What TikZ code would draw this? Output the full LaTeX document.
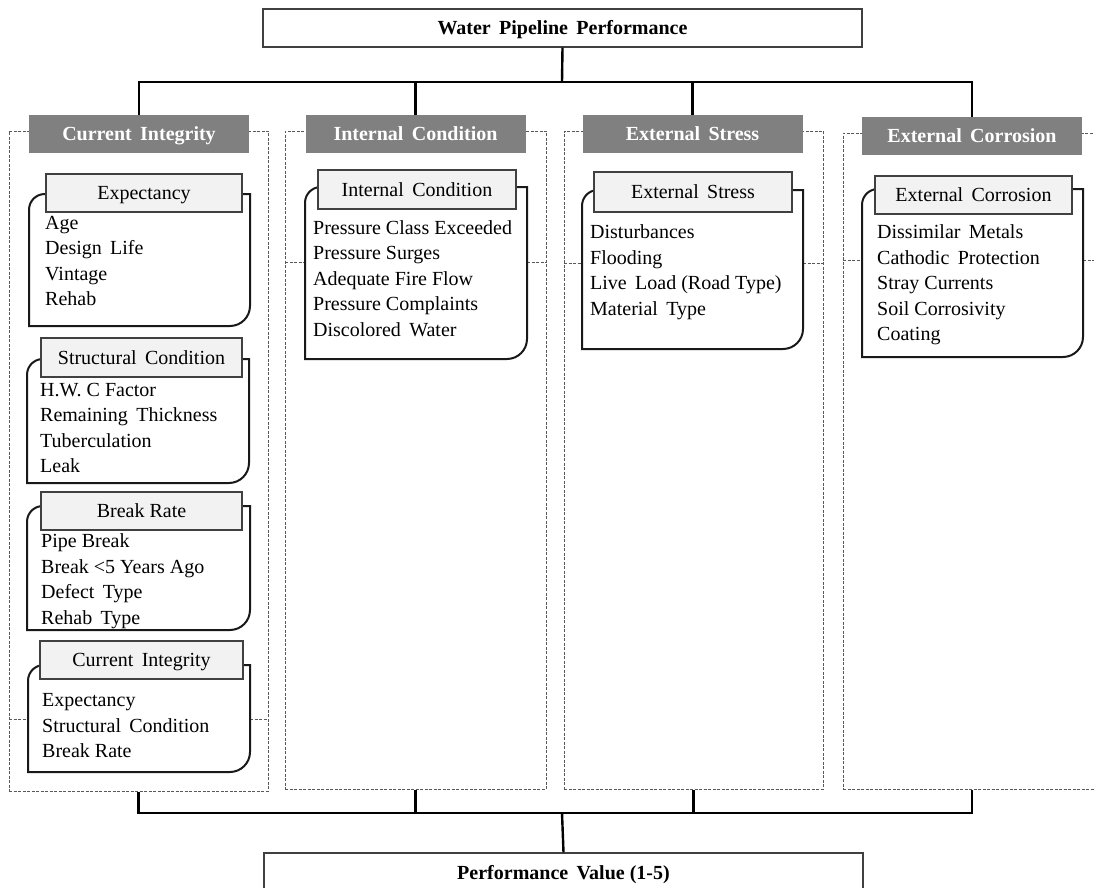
\documentclass[tikz,border=0pt]{standalone}
\usepackage{fontspec}
\setmainfont{Liberation Serif}

% rounded item frame: round top-left and bottom-right corners
\newcommand\rndbox[4]{%
  \path[rbox] (#1,#4) -- (#1,#2+16) .. controls (#1,#2+7) and (#1+7,#2) .. (#1+16,#2)
    -- (#3,#2) -- (#3,#4-20) .. controls (#3,#4-9) and (#3-9,#4) .. (#3-20,#4) -- cycle;}

\tikzset{
  txt/.style={font=\fontsize{20}{25.5}\selectfont},
  btxt/.style={font=\fontsize{20}{25.5}\selectfont\bfseries},
  mid/.style={text height=16pt, text depth=2.5pt},
  conn/.style={draw=black, line width=2.4pt},
  colbox/.style={draw=black!65, line width=1pt, dash pattern=on 3pt off 1.5pt, inner sep=0pt},
  sepline/.style={draw=black!65, line width=1pt, dash pattern=on 3pt off 1.5pt},
  colhdr/.style={btxt, mid, fill=black!50, text=white, minimum width=220pt, minimum height=38pt, inner sep=0pt},
  subhdr/.style={txt, mid, fill=black!5, draw=black!75, line width=1.2pt, minimum height=38pt, inner sep=0pt},
  rbox/.style={draw=black!90, line width=2pt, fill=white},
  items/.style={txt, anchor=north west, align=left, inner sep=0pt},
  mainbox/.style={btxt, mid, draw=black!75, line width=1.2pt, fill=white, minimum width=599pt, minimum height=38pt, inner sep=0pt},
}

\begin{document}
\begin{tikzpicture}[x=1pt,y=-1pt]
\useasboundingbox (0,0) rectangle (1094,888);
\clip (0,0) rectangle (1094,888);

% column frames
\node[colbox, minimum width=259pt, minimum height=660pt] (c1) at (138.5,461) {};
\node[colbox, minimum width=261pt, minimum height=658pt] (c2) at (415.5,460) {};
\node[colbox, minimum width=259pt, minimum height=658pt] (c3) at (693.5,460) {};
\node[colbox, minimum width=258pt, minimum height=656pt] (c4) at (972,461) {};

% dashed cross lines inside the columns
\draw[sepline] (9,719) -- (28,719) (250,719) -- (268,719);
\draw[sepline] (285,262) -- (305,262) (527,262) -- (546,262);
\draw[sepline] (564,263) -- (582,263) (803,263) -- (823,263);
\draw[sepline] (843,260) -- (862,260) (1083,260) -- (1101,260);

% column headers
\node[colhdr] (h1) at (139,134) {Current\, Integrity};
\node[colhdr] (h2) at (415.5,134) {Internal\, Condition};
\node[colhdr] (h3) at (692.5,134) {External\, Stress};
\node[colhdr] (h4) at (972,136) {External\, Corrosion};

% Current Integrity column
\rndbox{29}{194}{250}{326}
\node[subhdr, minimum width=196pt] (e1) at (144,193) {Expectancy};
\node[items] (e1i) at (45,216) {Age\\Design\, Life\\Vintage\\Rehab};

\rndbox{27}{359}{249}{483}
\node[subhdr, minimum width=201pt, minimum height=39pt] (e2) at (141.5,357.5) {Structural\, Condition};
\node[items] (e2i) at (40,383) {H.W. C Factor\\Remaining\, Thickness\\Tuberculation\\Leak};

\rndbox{27}{506}{250}{630}
\node[subhdr, minimum width=201pt] (e3) at (141.5,511) {Break Rate};
\node[items] (e3i) at (41,533.5) {Pipe Break\\Break <5 Years Ago\\Defect\, Type\\Rehab\, Type};

\rndbox{28}{665}{250}{772}
\node[subhdr, minimum width=203pt] (e4) at (141.5,660) {Current\, Integrity};
\node[items] (e4i) at (42,693.5) {Expectancy\\Structural\, Condition\\Break Rate};

% Internal Condition column
\rndbox{305}{187}{527}{359}
\node[subhdr, minimum width=198pt, minimum height=39pt] (i1) at (417,189.5) {Internal\, Condition};
\node[items] (i1i) at (313,220) {Pressure Class Exceeded\\Pressure Surges\\Adequate Fire Flow\\Pressure Complaints\\Discolored\, Water};

% External Stress column
\rndbox{582}{190}{803}{349}
\node[subhdr, minimum width=198pt, minimum height=40pt] (s1) at (693,192) {External\, Stress};
\node[items] (s1i) at (590,224.5) {Disturbances\\Flooding\\Live\, Load (Road Type)\\Material\, Type};

% External Corrosion column
\rndbox{862}{189}{1083}{357}
\node[subhdr, minimum width=197pt] (k1) at (973.5,195) {External\, Corrosion};
\node[items] (k1i) at (877,224.5) {Dissimilar\, Metals\\Cathodic\, Protection\\Stray Currents\\Soil Corrosivity\\Coating};

% goal and result boxes
\node[mainbox] (top) at (562.5,28) {Water\, Pipeline\, Performance};
\node[mainbox, minimum height=40pt] (perf) at (563.5,873) {Performance\, Value (1-5)};

% upper distribution bus
\coordinate (busT) at (562,82);
\draw[conn] (top.south) -- (busT);
\draw[conn] (h1.north) -- (h1.north |- busT) -- (h4.north |- busT) -- (h4.north);
\draw[conn] (h2.north) -- (h2.north |- busT);
\draw[conn] (h3.north) -- (h3.north |- busT);

% lower collecting bus
\coordinate (busB) at (562,813);
\draw[conn] (c1.south) -- (c1.south |- busB) -- (c4.south |- busB) -- (c4.south);
\draw[conn] (c2.south) -- (c2.south |- busB);
\draw[conn] (c3.south) -- (c3.south |- busB);
\draw[conn] (busB) -- (perf.north);
\end{tikzpicture}
\end{document}
